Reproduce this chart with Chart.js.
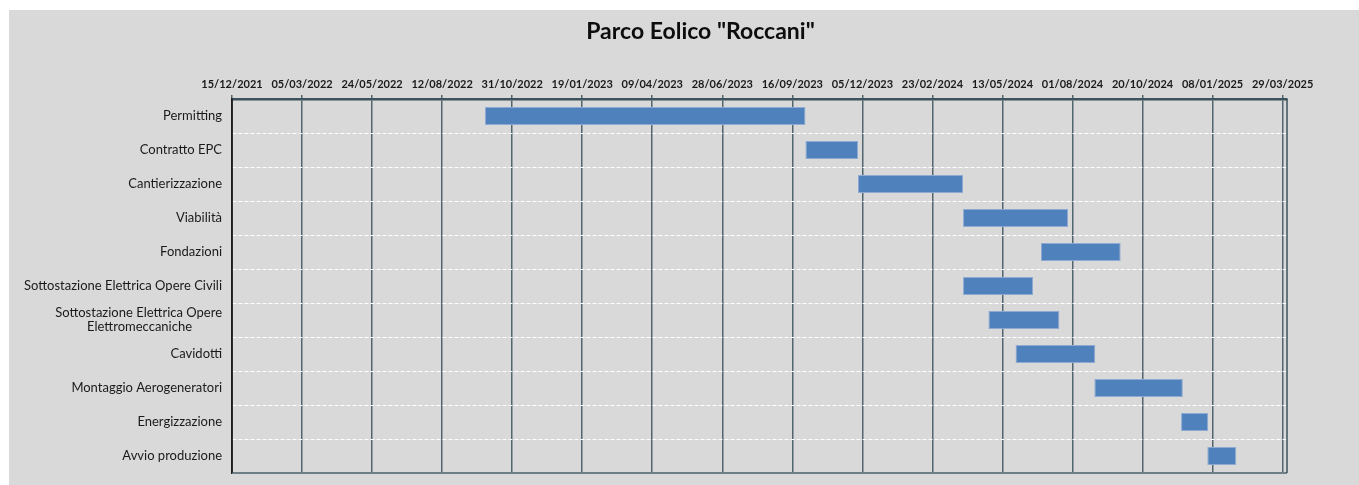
<!DOCTYPE html>
<html><head><meta charset="utf-8">
<script src="https://cdn.jsdelivr.net/npm/chart.js@4"></script>
<style>
html,body{margin:0;padding:0;background:#fff;}
#wrap{position:absolute;left:9px;top:10px;width:1350px;height:475px;background:#d9d9d9;}
canvas{display:block;}
</style></head><body>
<div id="wrap"><canvas id="c" width="1350" height="475"></canvas></div>
<script>
const chartTitle = 'Parco Eolico "Roccani"';
const categories = [
  'Permitting',
  'Contratto EPC',
  'Cantierizzazione',
  'Viabilità',
  'Fondazioni',
  'Sottostazione Elettrica Opere Civili',
  ['Sottostazione Elettrica Opere', 'Elettromeccaniche         '],
  'Cavidotti',
  'Montaggio Aerogeneratori',
  'Energizzazione',
  'Avvio produzione'
];
const startDates = ['30/09/2022','01/10/2023','30/11/2023','29/03/2024','26/06/2024','29/03/2024','27/04/2024','28/05/2024','26/08/2024','03/12/2024','02/01/2025'];
const endDates   = ['01/10/2023','30/11/2023','29/03/2024','27/07/2024','25/09/2024','17/06/2024','17/07/2024','27/08/2024','05/12/2024','03/01/2025','04/02/2025'];
const tickLabels = ['15/12/2021','05/03/2022','24/05/2022','12/08/2022','31/10/2022','19/01/2023','09/04/2023','28/06/2023','16/09/2023','05/12/2023','23/02/2024','13/05/2024','01/08/2024','20/10/2024','08/01/2025','29/03/2025'];

function toDay(s){const [d,m,y]=s.split('/').map(Number);return Date.UTC(y,m-1,d)/86400000;}
const tickValues = tickLabels.map(toDay);
const xMin = tickValues[0];
const xMax = tickValues[tickValues.length-1] + 5;
const barData = categories.map((c,i)=>[toDay(startDates[i]), toDay(endDates[i])]);

const framePlugin = {
  id:'frame',
  beforeDatasetsDraw(chart){
    const {ctx, chartArea:a} = chart;
    ctx.save();
    ctx.strokeStyle = '#6d7e86'; ctx.lineWidth = 2;
    ctx.beginPath(); ctx.moveTo(a.left, a.bottom); ctx.lineTo(a.right, a.bottom); ctx.stroke();
    ctx.strokeStyle = '#3d525c'; ctx.lineWidth = 1.5;
    ctx.beginPath(); ctx.moveTo(a.right, a.top); ctx.lineTo(a.right, a.bottom); ctx.stroke();
    ctx.strokeStyle = '#1e1e1e'; ctx.lineWidth = 1.5;
    ctx.beginPath(); ctx.moveTo(a.left, a.top); ctx.lineTo(a.left, a.bottom); ctx.stroke();
    ctx.restore();
  },
  afterDraw(chart){
    const ctx = chart.ctx;
    ctx.save();
    ctx.fillStyle = '#0d0d0d';
    ctx.font = 'bold 23px Lato';
    ctx.textAlign = 'center';
    ctx.textBaseline = 'middle';
    ctx.fillText(chartTitle, 691.5, 22);
    ctx.restore();
  }
};

new Chart(document.getElementById('c'), {
  type:'bar',
  data:{
    labels: categories,
    datasets:[{
      data: barData,
      backgroundColor:'#4f81bd',
      borderColor:'#8eaad3',
      borderWidth:1,
      borderSkipped:false,
      categoryPercentage:1,
      barPercentage:0.53
    }]
  },
  options:{
    indexAxis:'y',
    responsive:false,
    animation:false,
    devicePixelRatio:1,
    layout:{padding:{left:0,right:72,top:0,bottom:12}},
    plugins:{legend:{display:false}, tooltip:{enabled:false}, title:{display:false}},
    scales:{
      x:{
        type:'linear', position:'top', min:xMin, max:xMax,
        afterFit:s=>{s.height=89; s.paddingLeft=0; s.paddingRight=0;},
        afterBuildTicks:s=>{s.ticks = tickValues.map(v=>({value:v}));},
        ticks:{autoSkip:false, maxRotation:0, minRotation:0, padding:4, color:'#1a1a1a',
          font:{family:'Lato', size:11, weight:'bold'},
          callback:(v,i)=>tickLabels[i]},
        grid:{color:'#52666f', lineWidth:1.5, tickLength:4, drawTicks:true},
        border:{display:true, color:'#3d525c', width:2.5}
      },
      y:{
        type:'category',
        afterFit:s=>{s.width=223; s.paddingTop=0; s.paddingBottom=0;},
        ticks:{padding:10, color:'#1a1a1a', font:{family:'Lato', size:13, lineHeight:1.07}},
        grid:{color:'#ffffff', lineWidth:1, drawTicks:false, offset:true},
        border:{display:true, color:'#1e1e1e', width:1.5, dash:[4,2]}
      }
    }
  },
  plugins:[framePlugin]
});
</script>
</body></html>
